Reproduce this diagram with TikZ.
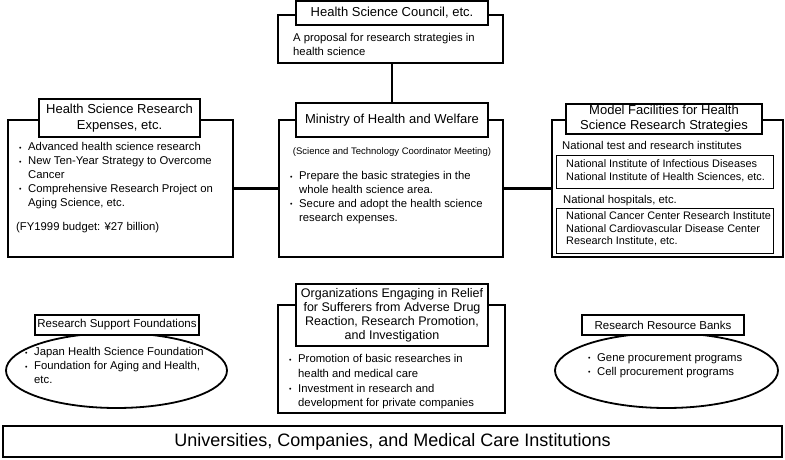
\documentclass[tikz,border=0pt]{standalone}
\usepackage{fontspec}
\setmainfont{Liberation Sans}
\usetikzlibrary{shapes.geometric}
\newcommand\bodyf{\fontsize{11.3}{13.8}\selectfont}
\newcommand\ttlf{\fontsize{13}{15.5}\selectfont}
\newcommand\smlf{\fontsize{9.5}{11}\selectfont}
\newcommand\bigf{\fontsize{18}{20}\selectfont}
\newcommand\bul{\makebox[9pt][l]{\raisebox{0.6pt}{\fontsize{7}{7}\selectfont\textbullet}}}
\newcommand\ind{\hspace*{9pt}}
\begin{document}
\begin{tikzpicture}[x=1pt,y=-1pt,
  box/.style={draw, line width=2pt, inner sep=0},
  ttlbox/.style={draw, fill=white, line width=2pt, inner sep=0, align=center, font=\ttlf},
  subbox/.style={draw, line width=0.9pt, inner sep=0},
  oval/.style={draw, ellipse, line width=1.8pt, inner sep=0},
  conn/.style={line width=2.6pt},
  txt/.style={anchor=north west, align=left, inner sep=0, font=\bodyf},
]
\useasboundingbox (0,0) rectangle (785,460);

% --- top: council
\node[box, minimum width=225, minimum height=48] (council) at (390.5,39) {};
\node[ttlbox, minimum width=192, minimum height=24] (ctitle) at (392,13) {Health Science Council, etc.};
\node[txt] (ctext) at (293,33.5) {A proposal for research strategies in\\health science};

% --- ministry
\node[box, minimum width=224, minimum height=137] (min) at (391,188.5) {};
\node[ttlbox, minimum width=192, minimum height=34] (mtitle) at (392,120) {Ministry of Health and Welfare};
\node[anchor=north, inner sep=0, font=\smlf] (msci) at (392,147.5) {(Science and Technology Coordinator Meeting)};
\node[txt] (mtext) at (290,171.5) {\bul Prepare the basic strategies in the\\\ind whole health science area.\\\bul Secure and adopt the health science\\\ind research expenses.};

% --- left: expenses
\node[box, minimum width=225, minimum height=137] (left) at (120.5,188.5) {};
\node[ttlbox, minimum width=161, minimum height=38] (ltitle) at (119.5,118) {Health Science Research\\Expenses, etc.};
\node[txt] (ltext) at (19,142.5) {\bul Advanced health science research\\\bul New Ten-Year Strategy to Overcome\\\ind Cancer\\\bul Comprehensive Research Project on\\\ind Aging Science, etc.};
\node[txt] (lbudget) at (16,222.5) {(FY1999 budget: ¥27 billion)};

% --- right: model facilities
\node[box, minimum width=231, minimum height=137] (right) at (667.5,188.5) {};
\node[ttlbox, minimum width=196, minimum height=30, font=\fontsize{13}{15}\selectfont] (rtitle) at (664,119) {Model Facilities for Health\\Science Research Strategies};
\node[txt] (rtest) at (562,141.5) {National test and research institutes};
\node[subbox, minimum width=217, minimum height=33] (in1) at (664.5,171.5) {};
\node[txt, font=\fontsize{10.9}{13}\selectfont] (in1text) at (566,159.5) {National Institute of Infectious Diseases\\National Institute of Health Sciences, etc.};
\node[txt] (rhosp) at (563,195.5) {National hospitals, etc.};
\node[subbox, minimum width=217, minimum height=45] (in2) at (664.5,230.5) {};
\node[txt, font=\fontsize{10.9}{12.5}\selectfont] (in2text) at (566,211.5) {National Cancer Center Research Institute\\National Cardiovascular Disease Center\\Research Institute, etc.};

% --- connectors
\draw[conn] (council.south -| mtitle.north) -- (mtitle.north);
\draw[conn] (left.east) -- (min.west);
\draw[conn] (min.east) -- (right.west);

% --- bottom left: foundations
\node[oval, minimum width=221, minimum height=75] (found) at (116.5,370.5) {};
\node[ttlbox, minimum width=164, minimum height=20, font=\fontsize{11.5}{13}\selectfont] (ftitle) at (117,325) {Research Support Foundations};
\node[txt] (ftext) at (25,347.5) {\bul Japan Health Science Foundation\\\bul Foundation for Aging and Health,\\\ind etc.};

% --- bottom middle: organizations
\node[box, minimum width=227, minimum height=108] (org) at (391.5,359) {};
\node[ttlbox, minimum width=192, minimum height=62, font=\fontsize{12.5}{14}\selectfont] (otitle) at (392,315) {Organizations Engaging in Relief\\for Sufferers from Adverse Drug\\Reaction, Research Promotion,\\and Investigation};
\node[txt, font=\fontsize{11.3}{14.7}\selectfont] (otext) at (289,354.5) {\bul Promotion of basic researches in\\\ind health and medical care\\\bul Investment in research and\\\ind development for private companies};

% --- bottom right: resource banks
\node[oval, minimum width=223, minimum height=75] (bank) at (666.5,370.5) {};
\node[ttlbox, minimum width=162, minimum height=20, font=\fontsize{11.5}{13}\selectfont] (btitle) at (663,325) {Research Resource Banks};
\node[txt, font=\fontsize{11.3}{14}\selectfont] (btext) at (588,353.5) {\bul Gene procurement programs\\\bul Cell procurement programs};

% --- bottom bar
\node[box, minimum width=779, minimum height=31, font=\bigf] (univ) at (392.5,441.5) {Universities, Companies, and Medical Care Institutions};
\end{tikzpicture}
\end{document}
